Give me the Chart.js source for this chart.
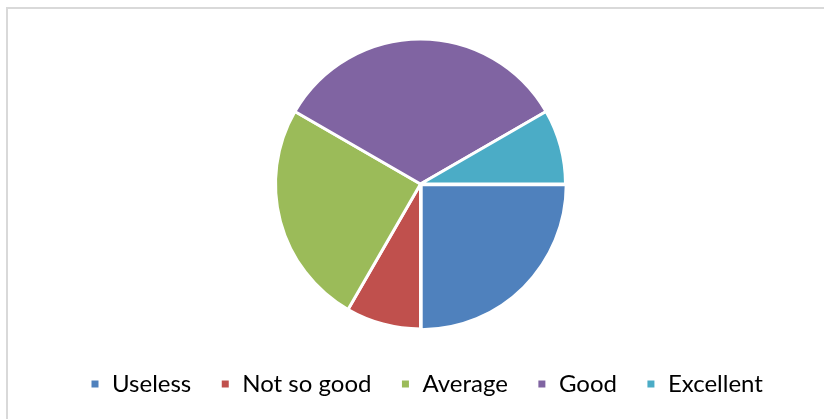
<!DOCTYPE html>
<html>
<head>
<meta charset="utf-8">
<script src="https://cdn.jsdelivr.net/npm/chart.js@4.4.1/dist/chart.umd.min.js"></script>
<style>
  html, body { margin: 0; padding: 0; width: 824px; height: 419px; overflow: hidden; background: #fff; }
  #frame { position: absolute; left: 6px; top: 7px; width: 900px; height: 500px; border: 2px solid #d9d9d9; box-sizing: border-box; }
  #wrap { position: absolute; left: 0; top: 0; width: 824px; height: 419px; }
</style>
</head>
<body>
<div id="frame"></div>
<div id="wrap"><canvas id="c" width="824" height="419"></canvas></div>
<script>
const categories = ["Useless", "Not so good", "Average", "Good", "Excellent"];
const values = [3, 1, 3, 4, 1];
const colors = ["#4F81BD", "#C0504D", "#9BBB59", "#8064A2", "#4BACC6"];
const offsets = [4, 0, 0, 0, 0];

new Chart(document.getElementById("c"), {
  type: "pie",
  data: {
    labels: categories,
    datasets: [{
      data: values,
      backgroundColor: colors,
      borderColor: "#ffffff",
      borderWidth: 3,
      offset: offsets
    }]
  },
  options: {
    responsive: false,
    animation: false,
    rotation: 90,
    radius: 145,
    layout: { padding: { left: 61, right: 0, top: 25, bottom: 13 } },
    plugins: {
      tooltip: { enabled: false },
      // invisible spacer on the right so the pie sits left of the legend's centre
      title: {
        display: true,
        text: " ",
        position: "right",
        fullSize: false,
        font: { size: 10, lineHeight: 1.2 },
        padding: 16
      },
      legend: {
        position: "bottom",
        align: "start",
        labels: {
          boxWidth: 10,
          boxHeight: 10,
          padding: 29,
          color: "#000000",
          font: { family: "Lato", size: 24 }
        }
      }
    }
  }
});
</script>
</body>
</html>
